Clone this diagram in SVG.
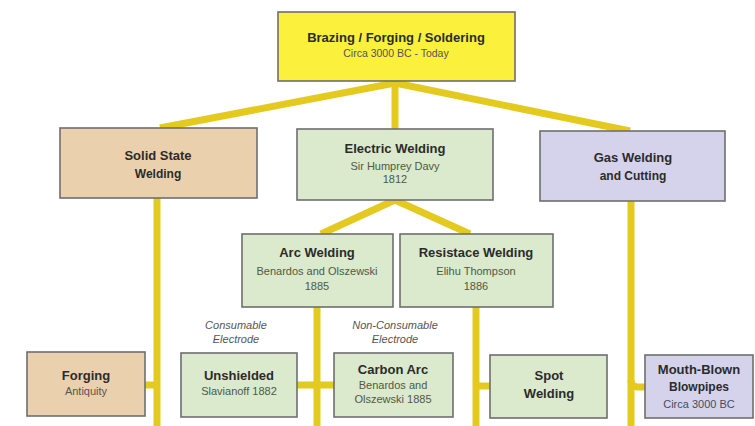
<svg xmlns="http://www.w3.org/2000/svg" width="755" height="426" viewBox="0 0 755 426">
<style>
.bg{fill:#ffffff}
.box{stroke:#6e6e6e;stroke-width:1.6}
.yel{fill:#fbf03c}
.tan{fill:#ebd0ad}
.grn{fill:#dbe9cc}
.lav{fill:#d5d3ec}
.con{stroke:#e4ca1f;stroke-width:7;fill:none;stroke-linecap:butt}
text{font-family:"Liberation Sans Narrow","Liberation Sans",Arial,sans-serif;text-anchor:middle;fill:#2b2b2b}
.t{font-weight:bold;font-size:13px}
.t2{font-weight:bold;font-size:12px}
.s{font-size:11px;fill:#4d5a45}
.sl{font-size:11px;fill:#4a4a5e}
.lbl{font-style:italic;font-size:11px;fill:#555}
</style>
<rect class="bg" x="0" y="0" width="755" height="426"/>
<g id="connectors">
<path class="con" d="M395 83 L160 128"/>
<path class="con" d="M395 83 L630 131"/>
<path class="con" d="M395 81 L395 129"/>
<path class="con" d="M157 198 L157 426"/>
<path class="con" d="M631 201 L631 426"/>
<path class="con" d="M395 200 L321 234"/>
<path class="con" d="M395 200 L470 234"/>
<path class="con" d="M317 307 L317 426"/>
<path class="con" d="M476 307 L476 426"/>
<path class="con" d="M145 385 L157 385"/>
<path class="con" d="M297 385 L334 385"/>
<path class="con" d="M476 386 L490 386"/>
<path class="con" d="M631 380 Q631 387 638 387 L645 387"/>
</g>
<g id="brazing">
<rect class="box yel" x="278" y="12" width="237" height="69"/>
<text class="t" x="396" y="42">Brazing / Forging / Soldering</text>
<text class="s" x="396" y="57" style="font-size:10.5px;fill:#555">Circa 3000 BC - Today</text>
</g>
<g id="solid-state">
<rect class="box tan" x="60" y="128" width="197" height="70"/>
<text class="t" x="158" y="160">Solid State</text>
<text class="t2" x="158" y="178">Welding</text>
</g>
<g id="electric">
<rect class="box grn" x="297" y="129" width="196" height="71"/>
<text class="t" x="395" y="153">Electric Welding</text>
<text class="s" x="395" y="170">Sir Humprey Davy</text>
<text class="s" x="395" y="183">1812</text>
</g>
<g id="gas">
<rect class="box lav" x="540" y="131" width="185" height="70"/>
<text class="t" x="633" y="162">Gas Welding</text>
<text class="t2" x="633" y="180">and Cutting</text>
</g>
<g id="arc">
<rect class="box grn" x="242" y="234" width="151" height="73"/>
<text class="t" x="317" y="257">Arc Welding</text>
<text class="s" x="317" y="275">Benardos and Olszewski</text>
<text class="s" x="317" y="290">1885</text>
</g>
<g id="resistance">
<rect class="box grn" x="400" y="234" width="153" height="73"/>
<text class="t" x="476" y="257">Resistace Welding</text>
<text class="s" x="476" y="275">Elihu Thompson</text>
<text class="s" x="476" y="290">1886</text>
</g>
<g id="label-consumable">
<text class="lbl" x="236" y="329">Consumable</text>
<text class="lbl" x="236" y="343">Electrode</text>
</g>
<g id="label-nonconsumable">
<text class="lbl" x="395" y="329">Non-Consumable</text>
<text class="lbl" x="395" y="343">Electrode</text>
</g>
<g id="forging">
<rect class="box tan" x="27" y="352" width="118" height="64"/>
<text class="t" x="86" y="380">Forging</text>
<text class="s" x="86" y="395" style="fill:#555">Antiquity</text>
</g>
<g id="unshielded">
<rect class="box grn" x="181" y="353" width="116" height="64"/>
<text class="t" x="239" y="380">Unshielded</text>
<text class="s" x="239" y="395">Slavianoff 1882</text>
</g>
<g id="carbon-arc">
<rect class="box grn" x="334" y="353" width="119" height="64"/>
<text class="t" x="393" y="374">Carbon Arc</text>
<text class="s" x="393" y="389">Benardos and</text>
<text class="s" x="393" y="403">Olszewski 1885</text>
</g>
<g id="spot">
<rect class="box grn" x="490" y="355" width="117" height="63"/>
<text class="t" x="549" y="380">Spot</text>
<text class="t" x="549" y="398">Welding</text>
</g>
<g id="mouth-blown">
<rect class="box lav" x="645" y="355" width="108" height="63"/>
<text class="t" x="699" y="374">Mouth-Blown</text>
<text class="t2" x="699" y="391">Blowpipes</text>
<text class="sl" x="699" y="408">Circa 3000 BC</text>
</g>
</svg>
